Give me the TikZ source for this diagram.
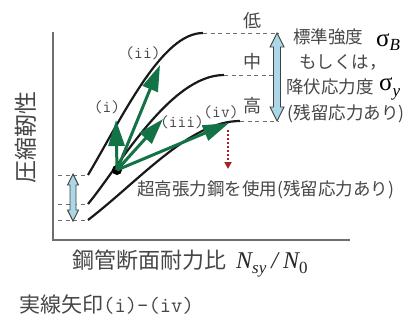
\documentclass[tikz,border=0pt]{standalone}
\usepackage{fontspec}
\newfontfamily\jp{Noto Sans CJK JP}
\newfontfamily\ser{Liberation Serif}
\usetikzlibrary{arrows.meta}
\definecolor{arrgreen}{RGB}{20,115,70}
\definecolor{lblue}{RGB}{172,215,230}
\definecolor{txtgray}{RGB}{70,70,70}
\definecolor{axgray}{RGB}{110,110,110}
\definecolor{dred}{RGB}{165,35,35}
\tikzset{
  axis/.style={draw=axgray, line width=1.5pt},
  curve/.style={draw=black!90, line width=2.2pt},
  guide/.style={draw=axgray, line width=0.8pt, dash pattern=on 4pt off 3.5pt},
  garrow/.style={draw=arrgreen, line width=3pt, -{Triangle[length=26pt,width=16pt,fill=arrgreen]}},
  rarrow/.style={draw=dred, line width=2pt, dotted, -{Triangle[length=7pt,width=7pt,fill=dred]}},
  barrow/.style={draw=black!75, line width=0.9pt, fill=lblue},
  jtxt/.style={text=txtgray, inner sep=0pt, font=\jp},
  roman/.style={text=txtgray, inner sep=0pt, font=\ttfamily\fontsize{17}{19}\selectfont},
}
\begin{document}
\begin{tikzpicture}[x=1pt,y=-1pt]
\useasboundingbox (0,0) rectangle (419,324);
% axes
\draw[axis] (53,32) -- (53,240) -- (350,240);
% guides
\draw[guide] (58,175) -- (88,175);
\draw[guide] (58,204) -- (88,204);
\draw[guide] (58,220) -- (88,220);
\draw[guide] (203,33) -- (279,33);
\draw[guide] (224,75) -- (279,75);
\draw[guide] (240,121) -- (279,121);
% curves
\draw[curve] (88,175) .. controls (124,114) and (162,33) .. (203,33);
\draw[curve] (88,204) .. controls (118,168) and (170,75) .. (224,75);
\draw[curve] (88,220) .. controls (140,180) and (190,121) .. (240,121);
% blue double arrows
\draw[barrow] (277,33) -- (284,47) -- (280.5,47) -- (280.5,107) -- (284,107) -- (277,121) -- (270,107) -- (273.5,107) -- (273.5,47) -- (270,47) -- cycle;
\draw[barrow] (73,174) -- (78.5,185) -- (76,185) -- (76,210) -- (78.5,210) -- (73,221) -- (67.5,210) -- (70,210) -- (70,185) -- (67.5,185) -- cycle;
% start point and arrows
\node[circle, fill=black, inner sep=0pt, minimum size=10pt] (dot) at (117,170) {};
\coordinate (ti) at (116,120);
\coordinate (tii) at (160,65);
\coordinate (tiii) at (163,119);
\coordinate (tiv) at (229,123);
\draw[garrow] (dot.center) -- (ti);
\draw[garrow] (dot.center) -- (tii);
\draw[garrow] (dot.center) -- (tiii);
\draw[garrow] (dot.center) -- (tiv);
\coordinate (rs) at (228,130);
\coordinate (re) at (228,169);
\draw[rarrow] (rs) -- (re);
% arrow labels
\node[roman] (li) at (107,107) {(i)};
\node[roman] (lii) at (143,53) {(ii)};
\node[roman] (liii) at (182,122) {(iii)};
\node[roman] (liv) at (221,112) {(iv)};
% low / mid / high
\node[jtxt, font=\jp\fontsize{18}{20}\selectfont] (low) at (252,21) {低};
\node[jtxt, font=\jp\fontsize{18}{20}\selectfont] (mid) at (252,62) {中};
\node[jtxt, font=\jp\fontsize{18}{20}\selectfont] (high) at (252,106) {高};
% right text
\node[jtxt, font=\jp\fontsize{17.5}{20}\selectfont] (t1) at (328,37) {標準強度};
\node[jtxt, font=\jp\fontsize{17.5}{20}\selectfont] (t2) at (343,62) {もしくは，};
\node[jtxt, font=\jp\fontsize{17.5}{20}\selectfont] (t3) at (330,87) {降伏応力度};
\node[jtxt, font=\jp\fontsize{17.5}{20}\selectfont] (t4) at (346,114) {(残留応力あり)};
\node[inner sep=0pt, anchor=west, font=\ser\fontsize{25}{27}\selectfont] (sb) at (376,42) {σ\raisebox{-4pt}{\itshape\fontsize{17}{19}\selectfont B}};
\node[inner sep=0pt, anchor=west, font=\ser\fontsize{25}{27}\selectfont] (sy) at (379,89) {σ\raisebox{-6pt}{\itshape\fontsize{17}{19}\selectfont y}};
% bottom annotation
\node[jtxt, anchor=west, font=\jp\fontsize{17.5}{20}\selectfont] (note) at (137,190) {超高張力鋼を使用(残留応力あり)};
% axis labels
\node[jtxt, rotate=90, font=\jp\fontsize{23}{26}\selectfont] (ylab) at (26,137) {圧縮靭性};
\node[jtxt, anchor=west, font=\jp\fontsize{22}{26}\selectfont] (xlab) at (72,264) {鋼管断面耐力比\hspace{10pt}{\ser\itshape\color{black!85}\fontsize{24}{26}\selectfont N\raisebox{-5pt}{\fontsize{17}{18}\selectfont sy}\hspace{5pt}/\hspace{5pt}N\raisebox{-5pt}{\upshape\fontsize{17}{18}\selectfont 0}}};
\node[jtxt, anchor=west, font=\jp\fontsize{21}{24}\selectfont] (cap) at (19,305) {実線矢印{\ttfamily\fontsize{22}{24}\selectfont(i)-(iv)}};
\end{tikzpicture}
\end{document}
